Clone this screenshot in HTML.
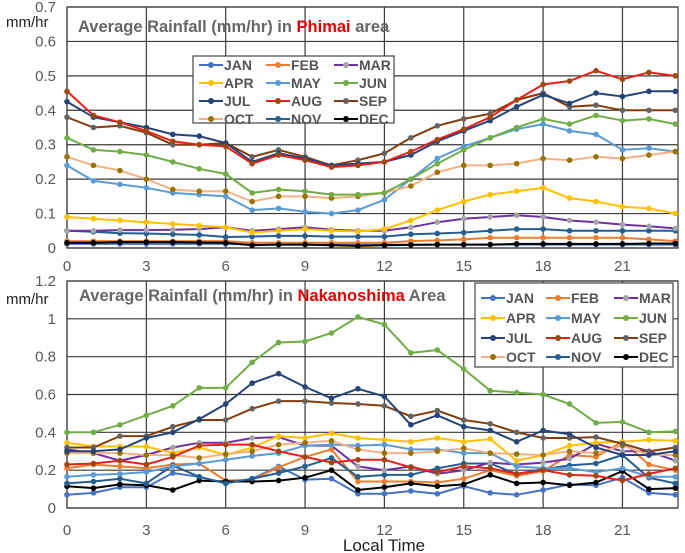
<!DOCTYPE html>
<html><head><meta charset="utf-8"><style>
body{margin:0;background:#fff;}
svg{display:block;font-family:"Liberation Sans",sans-serif;}
</style></head><body>
<svg id="c" width="685" height="553"></svg>
<script>
const hours=[...Array(24).keys()];
const months=["JAN","FEB","MAR","APR","MAY","JUN","JUL","AUG","SEP","OCT","NOV","DEC"];
const xTicks=[0,3,6,9,12,15,18,21];
const yTicksTop=[0,0.1,0.2,0.3,0.4,0.5,0.6,0.7];
const yTickLabelsTop=["0","0.1","0.2","0.3","0.4","0.5","0.6","0.7"];
const yTicksBot=[0,0.2,0.4,0.6,0.8,1,1.2];
const yTickLabelsBot=["0","0.2","0.4","0.6","0.8","1","1.2"];
const phJAN=[0.012,0.012,0.012,0.012,0.012,0.012,0.012,0.01,0.01,0.01,0.01,0.01,0.01,0.01,0.01,0.01,0.01,0.01,0.01,0.01,0.01,0.01,0.01,0.01];
const phFEB=[0.02,0.02,0.02,0.02,0.02,0.02,0.02,0.015,0.015,0.015,0.015,0.015,0.015,0.02,0.022,0.025,0.03,0.03,0.03,0.03,0.03,0.03,0.025,0.02];
const phMAR=[0.05,0.05,0.052,0.052,0.053,0.055,0.06,0.05,0.055,0.06,0.053,0.05,0.05,0.06,0.075,0.085,0.09,0.095,0.09,0.08,0.075,0.068,0.063,0.057];
const phAPR=[0.09,0.085,0.08,0.075,0.07,0.065,0.06,0.045,0.05,0.055,0.05,0.048,0.055,0.08,0.11,0.135,0.155,0.165,0.175,0.145,0.135,0.12,0.115,0.10];
const phMAY=[0.24,0.195,0.185,0.175,0.16,0.155,0.15,0.11,0.115,0.105,0.10,0.11,0.14,0.20,0.26,0.295,0.32,0.345,0.36,0.34,0.33,0.285,0.29,0.28];
const phJUN=[0.32,0.285,0.28,0.27,0.25,0.23,0.215,0.16,0.17,0.165,0.155,0.155,0.16,0.20,0.245,0.285,0.32,0.35,0.375,0.36,0.385,0.37,0.375,0.36];
const phJUL=[0.425,0.38,0.365,0.35,0.33,0.325,0.305,0.25,0.275,0.26,0.24,0.245,0.25,0.27,0.31,0.34,0.37,0.41,0.445,0.42,0.45,0.44,0.455,0.455];
const phAUG=[0.455,0.385,0.365,0.34,0.31,0.30,0.295,0.245,0.27,0.255,0.235,0.24,0.25,0.28,0.315,0.345,0.38,0.43,0.475,0.485,0.515,0.49,0.51,0.50];
const phSEP=[0.38,0.35,0.355,0.335,0.30,0.30,0.305,0.265,0.285,0.265,0.24,0.255,0.275,0.32,0.355,0.375,0.39,0.43,0.45,0.41,0.415,0.40,0.40,0.40];
const phOCT=[0.265,0.24,0.225,0.20,0.17,0.165,0.165,0.135,0.15,0.15,0.145,0.15,0.16,0.18,0.22,0.24,0.24,0.245,0.26,0.255,0.265,0.26,0.27,0.28];
const phNOV=[0.05,0.047,0.043,0.042,0.04,0.038,0.032,0.033,0.035,0.035,0.033,0.033,0.033,0.04,0.042,0.045,0.05,0.055,0.055,0.05,0.05,0.05,0.05,0.05];
const phDEC=[0.015,0.015,0.017,0.017,0.017,0.016,0.015,0.008,0.01,0.01,0.008,0.006,0.008,0.009,0.01,0.01,0.01,0.012,0.012,0.012,0.012,0.012,0.013,0.013];
const nkJAN=[0.07,0.08,0.11,0.11,0.185,0.165,0.13,0.155,0.22,0.15,0.155,0.075,0.075,0.09,0.075,0.115,0.08,0.07,0.095,0.125,0.12,0.16,0.08,0.07];
const nkFEB=[0.21,0.23,0.22,0.21,0.23,0.235,0.145,0.15,0.215,0.27,0.31,0.14,0.14,0.14,0.135,0.155,0.20,0.17,0.195,0.28,0.27,0.35,0.23,0.20];
const nkMAR=[0.31,0.29,0.25,0.28,0.32,0.345,0.345,0.37,0.375,0.33,0.33,0.22,0.20,0.22,0.18,0.20,0.24,0.23,0.24,0.26,0.34,0.30,0.30,0.25];
const nkAPR=[0.345,0.325,0.325,0.325,0.29,0.32,0.28,0.32,0.38,0.37,0.395,0.37,0.36,0.35,0.37,0.35,0.365,0.25,0.28,0.33,0.345,0.35,0.36,0.355];
const nkMAY=[0.165,0.175,0.18,0.19,0.22,0.235,0.255,0.275,0.29,0.33,0.335,0.33,0.335,0.31,0.31,0.29,0.29,0.22,0.21,0.21,0.19,0.21,0.165,0.165];
const nkJUN=[0.40,0.40,0.44,0.49,0.54,0.635,0.635,0.77,0.875,0.88,0.925,1.01,0.97,0.82,0.835,0.735,0.62,0.61,0.60,0.55,0.45,0.455,0.40,0.405];
const nkJUL=[0.30,0.30,0.31,0.37,0.40,0.47,0.55,0.66,0.71,0.64,0.58,0.63,0.59,0.44,0.49,0.43,0.41,0.35,0.41,0.39,0.32,0.28,0.28,0.30];
const nkAUG=[0.23,0.235,0.25,0.23,0.27,0.33,0.335,0.335,0.30,0.27,0.24,0.255,0.255,0.215,0.19,0.22,0.21,0.18,0.20,0.175,0.17,0.145,0.18,0.21];
const nkSEP=[0.32,0.32,0.38,0.38,0.43,0.465,0.465,0.525,0.565,0.565,0.555,0.55,0.54,0.485,0.515,0.465,0.445,0.40,0.37,0.37,0.375,0.34,0.30,0.32];
const nkOCT=[0.29,0.29,0.29,0.28,0.28,0.265,0.285,0.30,0.335,0.345,0.355,0.31,0.29,0.29,0.30,0.315,0.29,0.285,0.28,0.30,0.29,0.33,0.28,0.28];
const nkNOV=[0.13,0.14,0.155,0.13,0.225,0.165,0.13,0.155,0.185,0.22,0.265,0.165,0.175,0.175,0.21,0.235,0.235,0.18,0.205,0.225,0.235,0.28,0.16,0.13];
const nkDEC=[0.115,0.105,0.125,0.12,0.095,0.145,0.14,0.14,0.145,0.16,0.20,0.095,0.11,0.13,0.115,0.125,0.175,0.13,0.135,0.12,0.135,0.195,0.10,0.105];

const lineCol=["#4472C4","#ED7D31","#7030A0","#FFC000","#5B9BD5","#70AD47","#264478","#E8201A","#843C0C","#F4B183","#255E91","#000000"];
const markCol=["#4472C4","#ED7D31","#A5A5A5","#FFC000","#5B9BD5","#70AD47","#264478","#9E480E","#636363","#997300","#255E91","#000000"];
const NS="http://www.w3.org/2000/svg";
const svg=document.getElementById('c');
function mk(tag,attrs,parent){const e=document.createElementNS(NS,tag);for(const k in attrs)e.setAttribute(k,attrs[k]);(parent||svg).appendChild(e);return e;}
const X0=67,XS=26.45;
function xs(h){return X0+h*XS;}

function panel(cfg){
  const g=mk('g',{});
  
  
  const ys=v=>cfg.y0-(v/cfg.vmax)*(cfg.y0-cfg.y1);
  cfg.yt.forEach((t,i)=>{
    const l=mk('line',{x1:X0,x2:678,y1:ys(t),y2:ys(t),stroke:'#3a3a3a','stroke-width':1.2},g);
    
    
    const tx=mk('text',{x:56,y:ys(t)+5,'text-anchor':'end','font-size':15,fill:'#595959'},g);
    tx.textContent=cfg.yl[i];
    
    
  });
  xTicks.forEach(t=>{
    const l=mk('line',{x1:xs(t),x2:xs(t),y1:cfg.y1,y2:cfg.y0,stroke:'#3a3a3a','stroke-width':1.2},g);
    
    
    const tx=mk('text',{x:xs(t),y:cfg.xly,'text-anchor':'middle','font-size':15,fill:'#595959'},g);
    tx.textContent=String(t);
    
    
  });
  const r=mk('rect',{x:X0,y:cfg.y1,width:678-X0,height:cfg.y0-cfg.y1,fill:'none',stroke:'#3a3a3a','stroke-width':1.2},g);
  
  
  const u=mk('text',{x:6,y:cfg.unitY,'font-size':15,fill:'#222'},g);
  u.textContent='mm/hr';
  
  
  const order=[0,1,11,10,2,3,4,9,5,8,6,7];
  order.forEach(m=>{
    const d=cfg.data[m];
    const pts=hours.map(h=>xs(h).toFixed(1)+','+ys(d[h]).toFixed(1)).join(' ');
    const pl=mk('polyline',{points:pts,fill:'none',stroke:lineCol[m],'stroke-width':2},g);
    
    
    hours.forEach(h=>{
      const c=mk('circle',{cx:xs(h),cy:ys(d[h]),r:2.8,fill:markCol[m]},g);
      
      
    });
  });
  const t=mk('text',{x:cfg.tx,y:cfg.ty,'font-size':16.5,'font-weight':'bold',fill:'#666'},g);
  
  
  t.innerHTML=cfg.title;
  const lg=mk('g',{},g);
  
  
  const L=cfg.leg;
  mk('rect',{x:L.x,y:L.y,width:L.w,height:L.h,fill:'#fff',stroke:'#444','stroke-width':1.2},lg);
  months.forEach((m,i)=>{
    const row=Math.floor(i/3),col=i%3;
    const lx=L.cx[col],ly=L.ry[row];
    const e=mk('g',{},lg);
    
    
    mk('line',{x1:lx,x2:lx+24,y1:ly,y2:ly,stroke:lineCol[i],'stroke-width':2},e);
    mk('circle',{cx:lx+12,cy:ly,r:3,fill:markCol[i]},e);
    const tx=mk('text',{x:lx+25,y:ly+5,'font-size':14,'font-weight':'bold',fill:'#555'},e);
    tx.textContent=m;
  });
}
panel({name:'phimai-chart',y0:248,y1:7,vmax:0.7,yt:yTicksTop,yl:yTickLabelsTop,xly:271,unitY:27,
  data:[phJAN,phFEB,phMAR,phAPR,phMAY,phJUN,phJUL,phAUG,phSEP,phOCT,phNOV,phDEC],
  tx:78,ty:32,title:'Average Rainfall  (mm/hr) in <tspan fill="#e00000">Phimai</tspan> area',
  leg:{x:193,y:56,w:201,h:67,cx:[199,266,334],ry:[65,83,101,119]}});
panel({name:'nakanoshima-chart',y0:508,y1:281,vmax:1.2,yt:yTicksBot,yl:yTickLabelsBot,xly:535,unitY:304,
  data:[nkJAN,nkFEB,nkMAR,nkAPR,nkMAY,nkJUN,nkJUL,nkAUG,nkSEP,nkOCT,nkNOV,nkDEC],
  tx:79,ty:301,title:'Average Rainfall (mm/hr)  in <tspan fill="#e00000">Nakanoshima</tspan> Area',
  leg:{x:475,y:283,w:198,h:84,cx:[481,546,614],ry:[298,318,338,357]}});
const xt=mk('text',{x:384,y:551,'text-anchor':'middle','font-size':17,fill:'#222'});
xt.textContent='Local Time';


</script>
</body></html>
